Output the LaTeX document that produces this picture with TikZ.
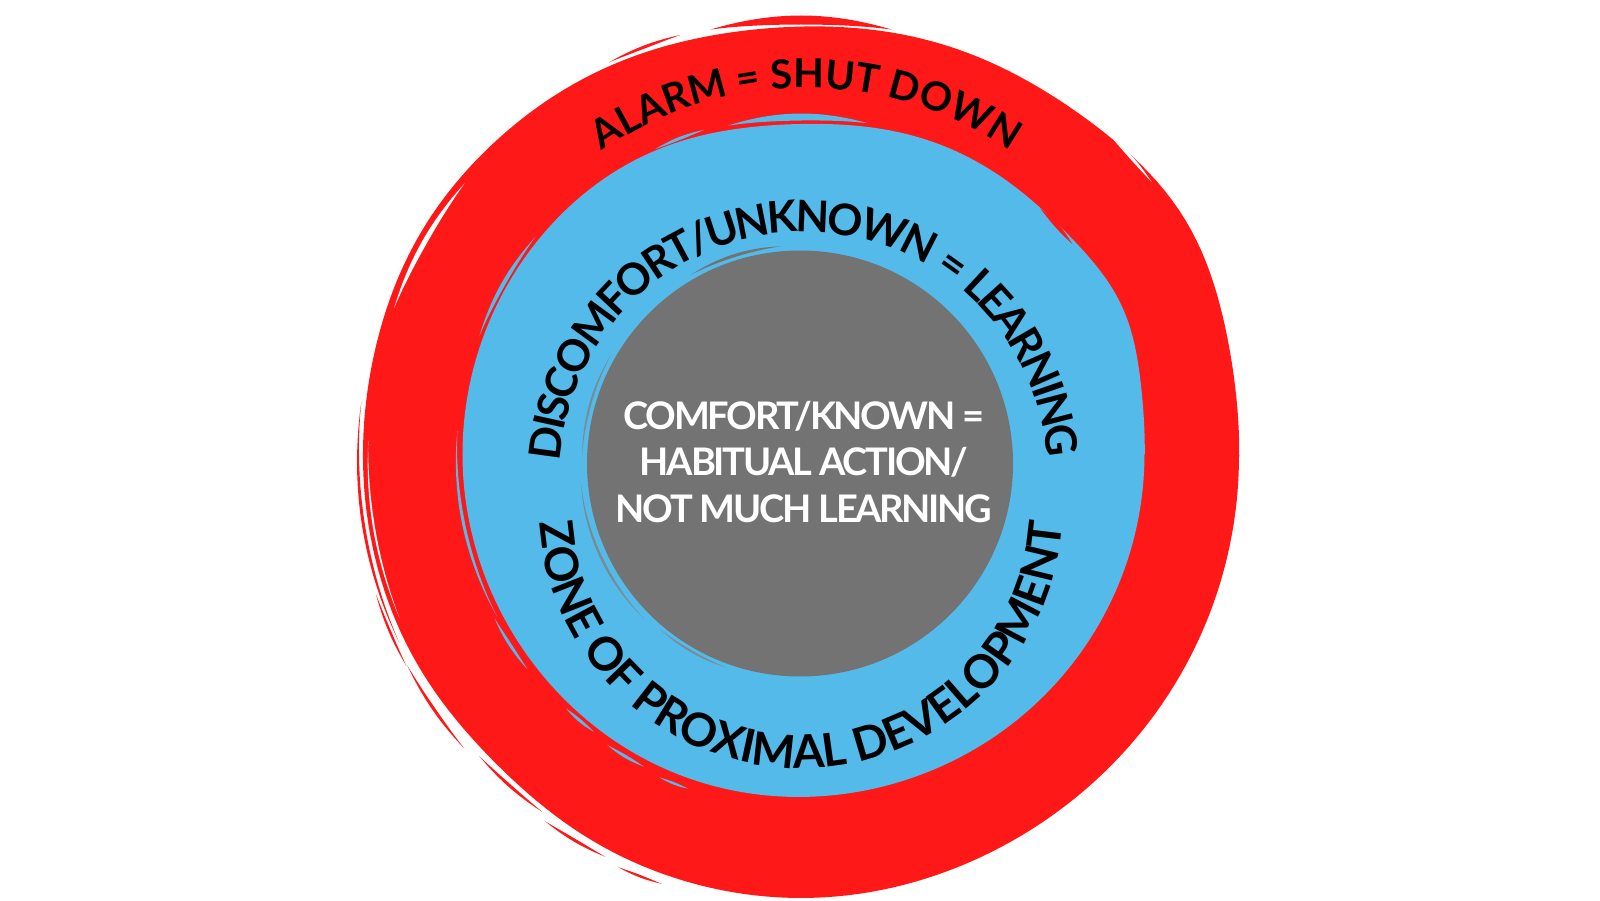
\documentclass[tikz,border=0pt]{standalone}
\usepackage{fontspec}
\setmainfont{Lato}
\newfontfamily\latoC{Lato}[LetterSpace=-6]
\usetikzlibrary{decorations.text}
\definecolor{redc}{HTML}{FF1818}
\definecolor{bluec}{HTML}{53BAEA}
\definecolor{grayc}{HTML}{737373}
\definecolor{graystray}{HTML}{7A8A95}
\newcommand\ftA{\bfseries\fontsize{40}{40}\selectfont}
\newcommand\ftB{\bfseries\fontsize{43.5}{43.5}\selectfont\kern-3.2pt}
\newcommand\ftU{\bfseries\fontsize{46}{46}\selectfont\kern-0.6pt}
% center cx, cy, radius, angle a1, angle a2, half thickness, colour
\newcommand\brushlens[7]{\fill[#7] plot[domain=0:2, samples=41, variable=\q]
  ({#1+(#3+#6*sin(180*\q))*cos(#4+(#5-#4)*(1-abs(1-\q)))},
   {#2+(#3+#6*sin(180*\q))*sin(#4+(#5-#4)*(1-abs(1-\q)))}) -- cycle;}
\begin{document}
\begin{tikzpicture}[x=1pt,y=1pt,
  declare function={
    redr(\a)=438+13*exp(-((\a-32)/16)^2)-9*exp(-((\a-95)/22)^2)+3*exp(-((\a-150)/15)^2)-5*exp(-((\a-225)/15)^2)+4*exp(-((\a-270)/25)^2);
    bluer(\a)=341+10*exp(-((\a-25)/13)^2)-11*exp(-((\a-92)/22)^2)+3*exp(-((\a-250)/30)^2);
  },
  arctext/.style={decorate, decoration={text along path, text align=center, text color=black, text={#1}}}]
\useasboundingbox (0,0) rectangle (1600,900);
\fill[white] (0,0) rectangle (1600,900);
% ---------------- red ring ----------------
\fill[redc] plot[domain=0:360, samples=241, variable=\a]
  ({801+redr(\a)*cos(\a)}, {444+redr(\a)*sin(\a)}) -- cycle;
\brushlens{801}{444}{436}{78}{102}{4.5}{redc}
\brushlens{801}{444}{438}{106}{116}{1.5}{redc}
\brushlens{801}{444}{443}{173}{205}{1.5}{redc}
\brushlens{801}{444}{447}{198}{208}{1.2}{redc}
\brushlens{801}{444}{446}{208}{221}{1.5}{redc}
\brushlens{801}{444}{440}{223}{234}{1.5}{redc}
\brushlens{801}{444}{446}{235}{244}{1.5}{redc}
\brushlens{801}{444}{450}{246}{252}{1.2}{redc}
\brushlens{801}{444}{433}{141}{160}{2.5}{white}
\brushlens{801}{444}{445}{38}{46}{1.5}{white}
\brushlens{801}{444}{433}{178}{202}{1}{white}
% ---------------- blue ring ----------------
\fill[bluec] plot[domain=0:360, samples=241, variable=\a]
  ({803.5+bluer(\a)*cos(\a)}, {446+bluer(\a)*sin(\a)}) -- cycle;
\brushlens{803.5}{446}{337}{79}{103}{3.5}{bluec}
\brushlens{803.5}{446}{339}{107}{116}{1.5}{bluec}
\brushlens{803.5}{446}{345}{141}{160}{2}{bluec}
\brushlens{803.5}{446}{347}{176}{208}{1.5}{bluec}
\brushlens{803.5}{446}{350}{208}{218}{1.5}{bluec}
\brushlens{803.5}{446}{348}{227}{233}{1.5}{bluec}
\brushlens{803.5}{446}{351}{236}{243}{1.5}{bluec}
\brushlens{803.5}{446}{354}{246}{251}{1.2}{bluec}
\brushlens{803.5}{446}{341}{38}{46}{2}{redc}
% ---------------- gray core ----------------
\fill[grayc] (800,436.5) circle[radius=213];
\brushlens{800}{436.5}{218}{95}{120}{1.5}{grayc}
\brushlens{800}{436.5}{218}{150}{178}{1}{graystray}
\brushlens{800}{436.5}{220}{185}{225}{1.2}{graystray}
\brushlens{800}{436.5}{217}{230}{250}{1}{graystray}
% ---------------- texts ----------------
\path[arctext={|\ftA|ALARM = SHUT DOWN}]
  (806,450) ++(170:362) arc[start angle=170, end angle=10, radius=362];
\path[arctext={|\ftB|DISCOMFORT/UNKNOWN {\kern7pt}= {\kern7pt}LEARNING}]
  (804,424) ++(200:244) arc[start angle=200, end angle=-20, radius=244];
\path[arctext={|\ftU|ZONE OF PROXIMAL DEVELOPMENT}]
  (801,394) ++(170:262) arc[start angle=170, end angle=370, radius=262];
\node[text=white, font=\latoC\bfseries\fontsize{38}{46.5}\selectfont, align=center]
  (core) at (804,438) {COMFORT/KNOWN =\\HABITUAL ACTION/\\NOT MUCH LEARNING};
\end{tikzpicture}
\end{document}
